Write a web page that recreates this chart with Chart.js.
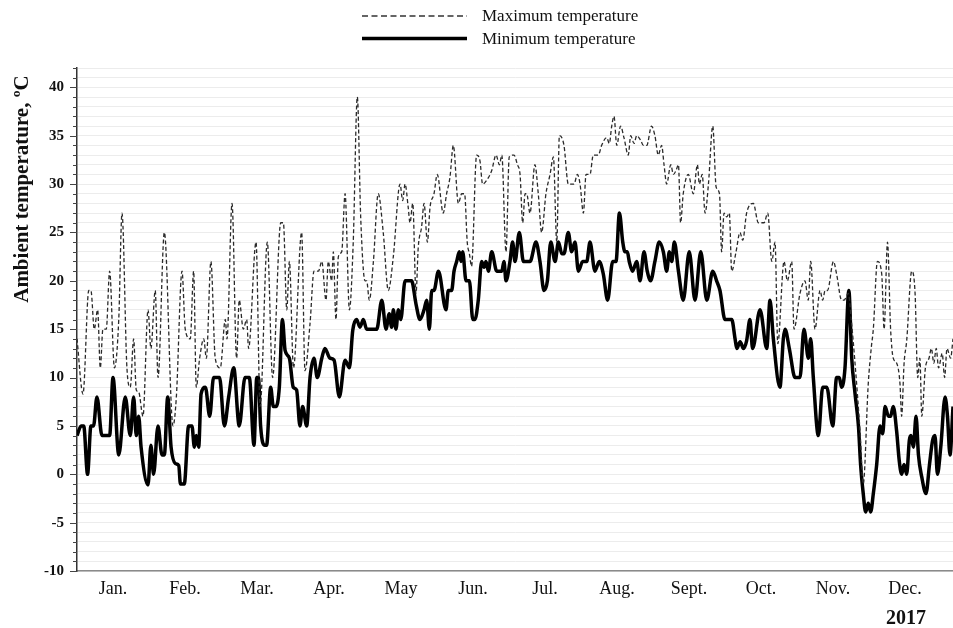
<!DOCTYPE html>
<html>
<head>
<meta charset="utf-8">
<script src="https://cdn.jsdelivr.net/npm/chart.js@4/dist/chart.umd.min.js"></script>
<style>
  html, body { margin: 0; padding: 0; background: #ffffff; }
  #wrap { width: 953px; height: 628px; position: relative; }
</style>
</head>
<body>
<div id="wrap"><canvas id="chart" width="953" height="628"></canvas></div>
<script>
// Daily ambient temperatures, 2017 (day of year, °C)
const monthLabels = ['Jan.', 'Feb.', 'Mar.', 'Apr.', 'May', 'Jun.', 'Jul.', 'Aug.', 'Sept.', 'Oct.', 'Nov.', 'Dec.'];
const yearLabel = '2017';
const seriesNames = ['Maximum temperature', 'Minimum temperature'];
const yTitle = 'Ambient temperature, ºC';

const maxDays = [0, 2.5, 4.9, 5.8, 7.2, 8.6, 9.7, 10.8, 12.2, 13.6, 15.6, 17.4, 18.75, 20.8, 22.2, 23.6, 24.7, 25.7, 27.5, 29.6, 30.8, 32.6, 33.75, 36.4, 40, 41.4, 43.75, 45.1, 47.2, 48.6, 49.7, 51.1, 52.8, 53.9, 55.8, 57.6, 59.7, 61.8, 62.5, 64.6, 66.5, 67.6, 69.3, 70.7, 71.5, 74.6, 76.3, 79.3, 81.5, 84.9, 86, 87.4, 88.5, 90.2, 93.6, 95, 97.1, 98.75, 100.6, 102, 103.75, 104.7, 106.1, 106.8, 107.9, 108.9, 110.3, 111.7, 113.5, 115.1, 116.8, 118.2, 120, 120.7, 121.8, 123.5, 125.5, 127.6, 129.7, 131.8, 134.6, 135.7, 136.7, 138, 138.75, 139.9, 141.25, 142.2, 143.6, 144.6, 146, 147.1, 148.75, 150.1, 152.6, 154, 155.4, 156.8, 158.9, 160.3, 161.5, 162.6, 163.5, 164.4, 166.5, 167.9, 169, 170.7, 172.8, 174.6, 176, 177, 178.75, 180.1, 182.1, 183.5, 184.6, 185.7, 186.7, 187.4, 188.75, 190.8, 192.2, 193.6, 195.4, 197.1, 198.5, 199.9, 201, 202.9, 204.7, 207.1, 208.5, 209.6, 211, 212.1, 213.75, 215.1, 217.2, 218.6, 220.7, 221.8, 222.8, 223.75, 224.9, 226.5, 227.9, 229.7, 230.7, 232.1, 233.2, 234.9, 236, 237.4, 239.4, 240.8, 242.2, 243.6, 244.6, 245.7, 247.4, 248.5, 249.6, 250.6, 251.5, 252.6, 254.7, 256.8, 258.5, 259.3, 260.5, 261.7, 263.1, 264.9, 266.3, 267.7, 268.6, 269.6, 270.7, 271.8, 272.8, 274.6, 276.25, 277.4, 279, 281.8, 283.9, 286.3, 287.8, 289.5, 290.85, 292, 294.6, 296, 297.8, 298.75, 301.25, 303.3, 304.7, 305.7, 307.5, 309.6, 310.7, 311.7, 312.7, 315.2, 316.5, 318.6, 319.6, 321.4, 322.6, 324.2, 326.25, 327.6, 329.7, 331, 331.8, 333.5, 335.3, 336.3, 337.7, 339, 340.1, 341.5, 342.9, 343.6, 344.6, 345.7, 347.8, 349.2, 350.3, 351.2, 352, 353.5, 355, 356, 357, 358, 359, 360.5, 361.5, 362.5, 364, 365];
const maxTemps = [14, 8.3, 19, 19, 15, 17, 11, 15, 15, 21, 11, 16, 27, 11, 9, 14, 8.7, 8.5, 6, 17, 13, 19, 10, 25, 5, 8, 21, 15, 14, 21, 9, 12, 14, 12, 22, 12, 11, 16, 14, 28, 12, 18, 15, 16, 13, 24, 7, 24, 10, 26, 26, 17, 22, 11, 25, 10.7, 15.6, 21, 21, 22, 18, 22, 20, 23, 16, 22.5, 23, 29, 17, 24, 39, 26.6, 20, 20, 18, 22, 29, 25, 19, 22.5, 30, 28.3, 30, 27.6, 26, 28, 18.7, 23.5, 25.6, 28, 24, 27.6, 29, 31, 27, 29, 30.7, 34, 28, 29, 29, 24, 22.8, 21.5, 33, 32.4, 30, 30.4, 31.4, 33, 32, 33, 23, 32.8, 33, 32, 31, 26, 29, 29, 27, 32, 29, 25, 29, 31, 32.8, 24, 35, 34, 30, 30, 31, 30, 27, 31, 31, 33, 33, 34, 34.8, 34.2, 36, 37, 34, 36, 34.8, 33, 35, 34.2, 35, 34.5, 34, 34, 36, 35, 33, 34, 32, 30, 32, 31, 31.4, 32, 26, 29, 31, 29, 32, 30, 31, 27, 30, 36, 29.7, 29, 23, 27, 26.6, 27, 21, 23, 25, 24.2, 27, 28, 26, 26, 27, 22, 24, 13.5, 22, 20, 22, 15, 18.7, 20, 18, 22, 15, 19, 18, 19, 19, 22, 20.7, 18, 18, 18.7, 16, 11.4, 4.5, -1, 9.4, 13.2, 15, 22, 20.7, 15, 24, 15, 12, 11.5, 9.4, 6, 11.4, 13.8, 21, 18.7, 10, 12, 6, 11, 12, 13, 11.5, 13, 11, 12.5, 10, 13, 12, 14];

const minDays = [0, 1.7, 2.8, 4.4, 5.8, 6.9, 8.3, 10.4, 13.6, 15, 17.4, 20.1, 22.2, 23.6, 24.7, 25.7, 26.7, 29.6, 30.8, 31.9, 33.75, 35.4, 36.4, 37.8, 39.2, 41, 42.4, 43.1, 44.7, 46.5, 47.9, 48.9, 49.7, 50.7, 51.7, 53.5, 55.3, 56.9, 59.4, 61.4, 63.2, 65.3, 67.6, 70, 71.8, 73.75, 74.9, 75.6, 76.5, 78.3, 79, 80.7, 81.8, 82.9, 84.3, 85.6, 86.7, 88.5, 90.1, 91.5, 92.9, 94, 95.7, 97.1, 98.75, 100.1, 102, 103.3, 105.4, 107.1, 109.3, 111.7, 113.5, 114.9, 116.5, 117.9, 119.3, 120.7, 124.9, 127, 128.75, 130.1, 131.1, 131.8, 132.9, 133.9, 134.9, 136.7, 139.4, 141.25, 142.9, 144.6, 145.7, 146.8, 147.8, 148.75, 150.6, 153.75, 154.7, 156.1, 157.1, 158.2, 159.3, 160, 160.7, 162.1, 163.5, 164.9, 165.8, 167.2, 168.6, 169.6, 170.4, 171.4, 172.8, 174.9, 177, 177.9, 178.75, 180.4, 181.5, 182.5, 184.3, 186, 188.75, 191.25, 192.9, 194.6, 196, 197.4, 199.2, 200.6, 202, 202.9, 204.7, 206.1, 207.5, 208.9, 210.7, 212.4, 213.75, 215.8, 217.6, 219.3, 221.1, 223.2, 224.6, 226, 227.4, 228.3, 229.3, 230.1, 231.5, 233.2, 234.6, 236.25, 237.6, 239, 240.8, 242.6, 244.3, 245.7, 246.8, 247.8, 248.9, 250.6, 252.6, 255.1, 257.5, 259.9, 262.4, 264.9, 266.5, 267.9, 270, 271.4, 272.8, 274.2, 274.9, 276.3, 277.7, 279, 280.4, 281.5, 284.6, 287.4, 288.75, 290.15, 292.9, 294.3, 295, 296.8, 299.2, 301.25, 302.9, 304.75, 305.7, 306.8, 308.9, 310.7, 312.4, 314.9, 316.5, 317.6, 318.6, 320, 321.6, 322.8, 324.2, 325.6, 326.5, 327.6, 328.6, 329.7, 330.7, 331.8, 333.2, 334.6, 335.7, 336.7, 338.1, 339, 340.1, 341.5, 342.6, 343.6, 344.6, 345.7, 346.8, 347.5, 348.5, 349.6, 350.6, 352, 353.75, 355.2, 356.5, 357.5, 358.5, 359.9, 361.7, 362.7, 363.75, 365];
const minTemps = [4, 5, 5, 0, 5, 5, 8, 4, 4, 10, 2, 8, 4, 8, 4, 6, 2.8, -1.1, 3, 0, 5, 2, 2, 8, 2.8, 1.1, 0.9, -1, -1, 5, 5, 2.8, 4, 2.8, 8.3, 9, 6, 10, 10, 5, 8, 11, 5, 10, 10, 3, 10, 10, 5, 3, 3, 9, 7, 7, 9, 16, 12.8, 12, 9, 8.7, 5, 7, 5, 10, 12, 10, 12, 13, 12, 11.8, 8, 11.8, 11, 14.9, 16, 15.2, 16, 15, 15, 18, 15, 16.6, 15.2, 17, 15, 17, 16, 20, 20, 17.6, 16, 17, 18, 15, 19, 19, 21, 17, 19, 19, 21, 22, 23, 22, 23, 20, 20, 16, 16, 18, 22, 21.4, 22, 21, 23, 21, 21, 22, 20, 22, 24, 22, 25, 22, 22, 24, 22, 19, 20, 24, 22, 24, 22.8, 22.8, 25, 23, 24, 21, 22, 22, 24, 21, 22, 20.7, 18, 22, 22, 27, 24, 23, 23, 22, 21, 22, 20, 23, 21, 20, 22, 24, 23, 21, 23, 22, 24, 21, 18, 23, 18, 23, 18, 21, 20, 19, 16, 16, 16, 14, 13, 13.7, 13, 13.8, 16, 13, 17, 13, 18, 14, 9, 14, 15, 13, 10, 10, 15, 12, 14, 10, 4, 9, 9, 5, 10, 10, 9, 11, 19, 12, 8.3, 5, 1, -2, -3.9, -3, -3.9, -2, 1, 5, 4.2, 7, 6, 6, 7, 4.5, 1.4, 0, 1, 0, 3.5, 4, 2.8, 6, 2, -0.3, -2, 1, 3.5, 4, 0, 2.8, 8, 6, 2, 7];

const serif = '"Liberation Serif", "Times New Roman", serif';

const toPoints = (days, temps) => days.map((d, i) => ({ x: d, y: temps[i] }));

// Stacked two-row legend above the plot
const legendRows = {
  id: 'legendRows',
  afterDraw(chart) {
    const ctx = chart.ctx;
    const rows = [
      { y: 16, dash: [6, 3.5], width: 1.4, color: '#333' },
      { y: 38.5, dash: [], width: 3.5, color: '#000' }
    ];
    ctx.save();
    rows.forEach((r, i) => {
      ctx.beginPath();
      ctx.setLineDash(r.dash);
      ctx.lineWidth = r.width;
      ctx.strokeStyle = r.color;
      ctx.moveTo(362, r.y);
      ctx.lineTo(467, r.y);
      ctx.stroke();
      ctx.setLineDash([]);
      ctx.fillStyle = '#111';
      ctx.font = '17px ' + serif;
      ctx.textAlign = 'left';
      ctx.textBaseline = 'middle';
      ctx.fillText(seriesNames[i], 482, r.y + 1);
    });
    ctx.restore();
  }
};

// Axis title, year caption and y-axis tick marks
const extras = {
  id: 'extras',
  afterDraw(chart) {
    const ctx = chart.ctx;
    const y = chart.scales.y;
    ctx.save();
    ctx.strokeStyle = '#444';
    ctx.lineWidth = 1;
    y.ticks.forEach(t => {
      const py = Math.round(y.getPixelForValue(t.value)) + 0.5;
      const len = t.value % 5 === 0 ? 7 : 4;
      ctx.beginPath();
      ctx.moveTo(y.right - len, py);
      ctx.lineTo(y.right, py);
      ctx.stroke();
    });

    ctx.translate(23, 189);
    ctx.rotate(-Math.PI / 2);
    ctx.font = 'bold 21px ' + serif;
    ctx.fillStyle = '#111';
    ctx.textAlign = 'center';
    ctx.textBaseline = 'middle';
    ctx.fillText(yTitle, 0, 0);
    ctx.restore();

    ctx.save();
    ctx.font = 'bold 20px ' + serif;
    ctx.fillStyle = '#111';
    ctx.textAlign = 'center';
    ctx.textBaseline = 'middle';
    ctx.fillText(yearLabel, 906, 619);
    ctx.restore();
  }
};

new Chart(document.getElementById('chart'), {
  type: 'line',
  data: {
    datasets: [
      {
        label: seriesNames[0],
        data: toPoints(maxDays, maxTemps),
        borderColor: '#2a2a2a',
        borderWidth: 1.3,
        borderDash: [4, 2.5],
        pointRadius: 0,
        cubicInterpolationMode: 'monotone',
        fill: false
      },
      {
        label: seriesNames[1],
        data: toPoints(minDays, minTemps),
        borderColor: '#000000',
        borderWidth: 3.5,
        pointRadius: 0,
        cubicInterpolationMode: 'monotone',
        fill: false
      }
    ]
  },
  options: {
    responsive: false,
    animation: false,
    layout: { padding: { top: 68, left: 0, right: 0, bottom: 0 } },
    plugins: { legend: { display: false }, tooltip: { enabled: false } },
    scales: {
      x: {
        type: 'linear',
        min: 0,
        max: 365,
        afterBuildTicks: s => { s.ticks = monthLabels.map((_, i) => ({ value: 30 * i + 15 })); },
        afterFit: s => { s.height = 57; },
        grid: { display: false, drawTicks: false },
        border: { display: true, color: '#8a8a8a', width: 1.5 },
        ticks: {
          autoSkip: false,
          maxRotation: 0,
          padding: 7,
          color: '#111',
          font: { family: serif, size: 18 },
          callback: (v, i) => monthLabels[i]
        }
      },
      y: {
        min: -10,
        max: 42,
        afterBuildTicks: s => {
          const t = [];
          for (let v = -10; v <= 42; v++) t.push({ value: v });
          s.ticks = t;
        },
        afterFit: s => { s.width = 77; },
        grid: { color: '#ececec', lineWidth: 1, drawTicks: false },
        border: { display: true, color: '#333', width: 1.5 },
        ticks: {
          autoSkip: false,
          padding: 13,
          color: '#111',
          font: { family: serif, size: 15, weight: 'bold' },
          callback: v => (v % 5 === 0 && v <= 40) ? String(v) : ''
        }
      }
    }
  },
  plugins: [legendRows, extras]
});
</script>
</body>
</html>
